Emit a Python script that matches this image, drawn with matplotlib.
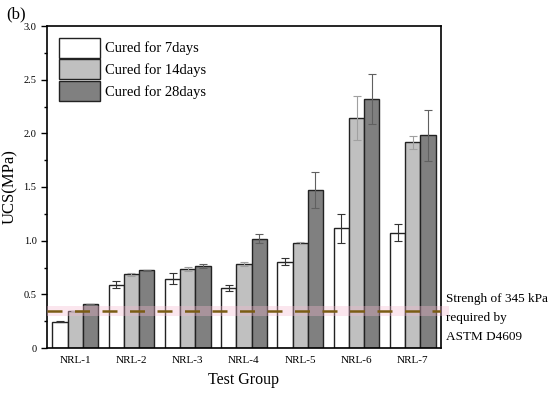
import numpy as np
import matplotlib
matplotlib.use("Agg")
import matplotlib.pyplot as plt
from matplotlib.ticker import MultipleLocator

plt.rcParams['font.family'] = ['Liberation Serif', 'DejaVu Serif']

groups = ["NRL-1", "NRL-2", "NRL-3", "NRL-4", "NRL-5", "NRL-6", "NRL-7"]
series = ["Cured for 7days", "Cured for 14days", "Cured for 28days"]
ucs_7d = [0.245, 0.59, 0.645, 0.56, 0.805, 1.115, 1.075]
ucs_14d = [0.345, 0.685, 0.735, 0.785, 0.978, 2.145, 1.915]
ucs_28d = [0.41, 0.725, 0.765, 1.02, 1.47, 2.318, 1.98]
err_7d = [0.005, 0.03, 0.05, 0.025, 0.03, 0.135, 0.08]
err_14d = [0.0, 0.01, 0.02, 0.02, 0.01, 0.205, 0.06]
err_28d = [0.0, 0.005, 0.02, 0.04, 0.17, 0.235, 0.24]
astm_limit = 0.345

fig = plt.figure(figsize=(5.5, 3.93), dpi=100)
ax = fig.add_axes([47/550, 1 - 348/393, 394/550, 322/393])

x = np.arange(1, len(groups) + 1)
w = 0.27
colors = ["#ffffff", "#c0c0c0", "#808080"]
ecolors = ["#333333", "#a0a0a0", "#606060"]
vals = [ucs_7d, ucs_14d, ucs_28d]
errs = [err_7d, err_14d, err_28d]
for i in range(3):
    ax.bar(x + (i - 1) * w, vals[i], w, color=colors[i], edgecolor="#222222",
           linewidth=1.0, label=series[i], zorder=2)
    ax.errorbar(x + (i - 1) * w, vals[i], yerr=errs[i], fmt="none",
                ecolor=ecolors[i], elinewidth=0.8, capsize=3, capthick=0.8, zorder=3)

# required strength band and line
ax.axhspan(astm_limit - 0.05, astm_limit + 0.05, xmin=0, xmax=1.02, color="#f4b8d0",
           alpha=0.35, lw=0, zorder=4, clip_on=False)
ax.axhline(astm_limit, color="#7a5c14", lw=1.8, ls=(0, (6, 5)), zorder=5)

ax.set_xlim(0.5, 7.5)
ax.set_ylim(0, 3.0)
ax.set_xticks(x)
ax.set_xticklabels(groups, fontsize=8)
ax.yaxis.set_major_locator(MultipleLocator(0.5))
ax.yaxis.set_minor_locator(MultipleLocator(0.25))
ax.set_yticks([0, 0.5, 1.0, 1.5, 2.0, 2.5, 3.0])
ax.set_yticklabels(["0", "0.5", "1.0", "1.5", "2.0", "2.5", "3.0"], fontsize=7.5)
ax.tick_params(axis="x", length=0, pad=6)
ax.tick_params(axis="y", which="major", length=4, width=1, direction="out")
ax.tick_params(axis="y", which="minor", length=2.5, width=1, direction="out")
for s in ax.spines.values():
    s.set_linewidth(1.2)

ax.set_ylabel("UCS(MPa)", fontsize=12, labelpad=4)
ax.set_xlabel("Test Group", fontsize=11.5, labelpad=5)

leg = ax.legend(loc="upper left", fontsize=10.5, frameon=False, handlelength=2.8,
                handleheight=1.75, handletextpad=0.4, labelspacing=0.1,
                borderaxespad=0.4, bbox_to_anchor=(0.0, 1.0))

fig.text(446/550, 1 - 318/393, "Strengh of 345 kPa\nrequired by\nASTM D4609",
         fontsize=9.5, va="center", ha="left", linespacing=1.75)
fig.text(6/550, 1 - 14/393, "(b)", fontsize=12, va="center", ha="left")

fig.savefig("out.png", dpi=100)
